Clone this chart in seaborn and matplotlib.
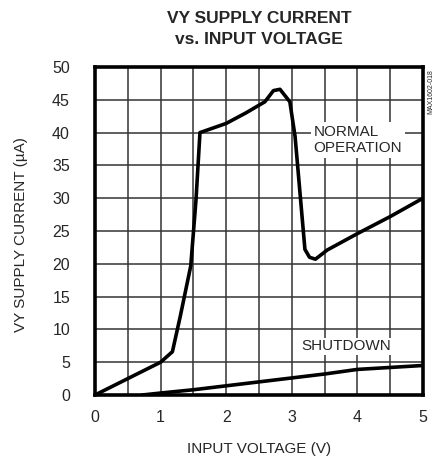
import matplotlib
matplotlib.use("Agg")
import matplotlib.pyplot as plt
import seaborn as sns
import pandas as pd
from matplotlib import font_manager

sns.set_style("white")
fams = [f.name for f in font_manager.fontManager.ttflist]
narrow = "Liberation Sans Narrow" if "Liberation Sans Narrow" in fams else "Liberation Sans"
plt.rcParams['font.family'] = [narrow, 'DejaVu Sans']

# Data
normal_v = [0.0, 0.5, 1.0, 1.18, 1.3, 1.46, 1.54, 1.60, 2.0, 2.3, 2.59, 2.72, 2.82, 2.97, 3.05, 3.2, 3.27, 3.36, 3.54, 4.0, 4.5, 5.0]
normal_i = [0.0, 2.5, 5.0, 6.6, 12.0, 19.7, 29.8, 40.0, 41.4, 43.0, 44.7, 46.4, 46.6, 44.7, 39.4, 22.2, 21.0, 20.7, 22.1, 24.6, 27.2, 30.0]
shut_v = [0.72, 1.0, 1.5, 2.0, 2.5, 3.0, 3.5, 4.0, 4.5, 5.0]
shut_i = [0.0, 0.3, 0.8, 1.4, 2.0, 2.6, 3.2, 3.9, 4.2, 4.5]

x_ticks = [0, 1, 2, 3, 4, 5]
y_ticks = [0, 5, 10, 15, 20, 25, 30, 35, 40, 45, 50]

df_n = pd.DataFrame({"v": normal_v, "i": normal_i})
df_s = pd.DataFrame({"v": shut_v, "i": shut_i})

fig = plt.figure(figsize=(4.38, 4.59), dpi=100)
ax = fig.add_axes([95/438, 1-395/459, (423-95)/438, (395-67)/459])

sns.lineplot(data=df_n, x="v", y="i", ax=ax, color="black", lw=2.6, sort=False, zorder=3)
sns.lineplot(data=df_s, x="v", y="i", ax=ax, color="black", lw=2.6, sort=False, zorder=3)

ax.set_xlim(0, 5)
ax.set_ylim(0, 50)
ax.set_xticks([i*0.5 for i in range(11)], minor=True)
ax.set_xticks(x_ticks)
ax.set_xticklabels([str(t) for t in x_ticks])
ax.set_yticks(y_ticks)
ax.set_yticklabels([str(t) for t in y_ticks])
ax.grid(True, which="both", color="#333333", lw=1.1)
ax.tick_params(axis="both", which="both", length=0, labelsize=11.5)
ax.tick_params(axis="x", pad=11)
ax.tick_params(axis="y", pad=18)
for s in ax.spines.values():
    s.set_color("black")
    s.set_linewidth(2.6)

ax.set_xlabel("INPUT VOLTAGE (V)", fontsize=11, labelpad=12)
ax.set_ylabel("VY SUPPLY CURRENT (µA)", fontsize=11, labelpad=16)
ax.yaxis.set_label_coords(-0.205, 0.49)

ax.text(3.33, 38.9, "NORMAL\nOPERATION", fontsize=11, ha="left", va="center",
        linespacing=1.2, bbox=dict(facecolor="white", edgecolor="none", pad=2), zorder=4)
ax.text(3.15, 7.4, "SHUTDOWN", fontsize=11, ha="left", va="center",
        bbox=dict(facecolor="white", edgecolor="none", pad=1), zorder=4)

fig.text(259/438, 1-29/459, "VY SUPPLY CURRENT\nvs. INPUT VOLTAGE", ha="center", va="center",
         fontsize=12.5, fontweight="bold", linespacing=1.45)
fig.text(431/438, 1-92/459, "MAX1602-018", rotation=90, ha="center", va="center", fontsize=5)

fig.savefig("out.png", dpi=100)
